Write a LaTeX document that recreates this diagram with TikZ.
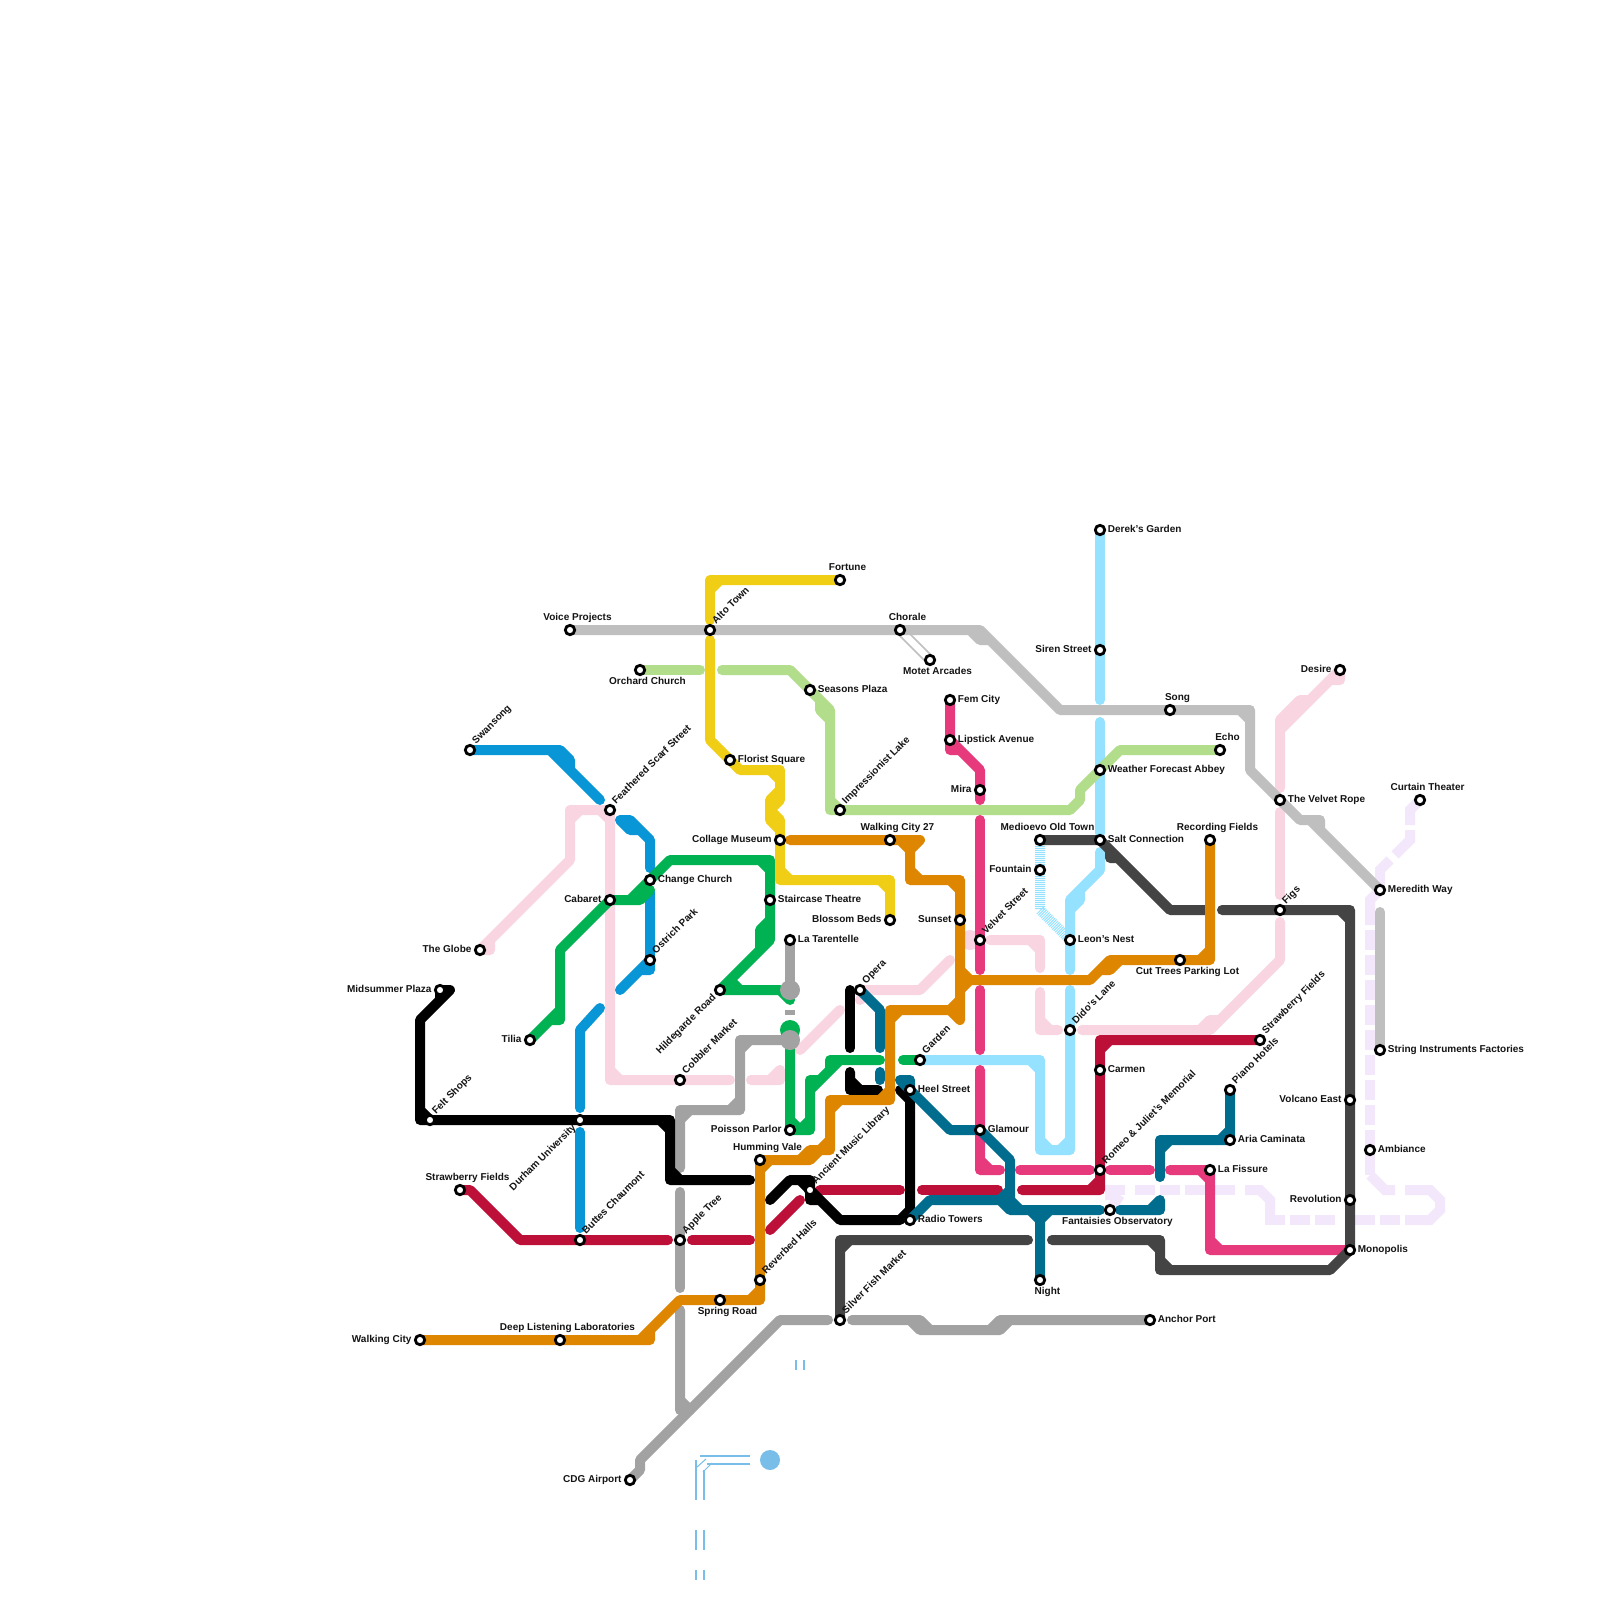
\documentclass[tikz,border=0pt]{standalone}
\usepackage{fontspec}
\setmainfont{Liberation Sans}
\pgfdeclarelayer{lines}
\pgfsetlayers{lines,main}
\definecolor{cSilver}{HTML}{BFBFBF}
\definecolor{cGray}{HTML}{A2A2A2}
\definecolor{cDark}{HTML}{444444}
\definecolor{cYellow}{HTML}{F0CE15}
\definecolor{cLime}{HTML}{B2DD8B}
\definecolor{cCyan}{HTML}{94E2FF}
\definecolor{cBlue}{HTML}{0896D7}
\definecolor{cGreen}{HTML}{00B251}
\definecolor{cOrange}{HTML}{DF8600}
\definecolor{cPink}{HTML}{F9D4E1}
\definecolor{cRed}{HTML}{BD1038}
\definecolor{cMag}{HTML}{E63A7C}
\definecolor{cTeal}{HTML}{006D8F}
\definecolor{cLav}{HTML}{F3E7FC}
\definecolor{cSky}{HTML}{79BDE9}
\tikzset{
  route/.style={line width=10pt,line cap=round,line join=round},
  lavpiece/.style={line width=10pt,line cap=butt,line join=miter,draw=cLav},
  stnode/.style={circle,draw=black,fill=white,line width=2.8pt,minimum size=9.4pt,inner sep=0pt,outer sep=0pt},
  lbl/.style={font=\bfseries\fontsize{10}{12}\selectfont,text=black!92,inner sep=0pt},
  lr/.style={lbl,anchor=base west,xshift=7.7pt,yshift=-2.6pt},
  ll/.style={lbl,anchor=base east,xshift=-8.3pt,yshift=-2.6pt},
  la/.style={lbl,anchor=base,xshift=7.5pt,yshift=9.4pt},
  lb/.style={lbl,anchor=base,xshift=7.5pt,yshift=-14.6pt},
  lrot/.style={lbl,anchor=base west,xshift=6pt,yshift=5.5pt,rotate=45},
  lrotl/.style={lbl,anchor=base east,xshift=-3.5pt,yshift=-8pt,rotate=45},
  hub/.style={circle,fill=#1,minimum size=20pt,inner sep=0pt,outer sep=0pt},
  skyline/.style={line width=2pt,draw=cSky},
}
\newcommand{\stn}[5]{\node[stnode] (#1) at (#2,#3) {};\node[#4] (#1-l) at (#1.center) {#5};}
\begin{document}
\begin{tikzpicture}[x=1pt,y=-1pt]
\useasboundingbox (0,0) rectangle (1600,1600);
% stations
\stn{swansong}{470}{750}{lrot}{Swansong}
\stn{feathered}{610}{810}{lrot}{Feathered Scarf Street}
\stn{voice}{570}{630}{la}{Voice Projects}
\stn{alto}{710}{630}{lrot}{Alto Town}
\stn{fortune}{840}{580}{la}{Fortune}
\stn{chorale}{900}{630}{la}{Chorale}
\stn{motet}{930}{660}{lb}{Motet Arcades}
\stn{orchard}{640}{670}{lb}{Orchard Church}
\stn{seasons}{810}{690}{lr}{Seasons Plaza}
\stn{florist}{730}{760}{lr}{Florist Square}
\stn{collage}{780}{840}{ll}{Collage Museum}
\stn{walking}{890}{840}{la}{Walking City 27}
\stn{change}{650}{880}{lr}{Change Church}
\stn{cabaret}{610}{900}{ll}{Cabaret}
\stn{staircase}{770}{900}{lr}{Staircase Theatre}
\stn{blossom}{890}{920}{ll}{Blossom Beds}
\stn{impress}{840}{810}{lrot}{Impressionist Lake}
\stn{sunset}{960}{920}{ll}{Sunset}
\stn{fem}{950}{700}{lr}{Fem City}
\stn{lipstick}{950}{740}{lr}{Lipstick Avenue}
\stn{mira}{980}{790}{ll}{Mira}
\stn{velvet}{980}{940}{lrot}{Velvet Street}
\stn{medioevo}{1040}{840}{la}{Medioevo Old Town}
\stn{fountain}{1040}{870}{ll}{Fountain}
\stn{salt}{1100}{840}{lr}{Salt Connection}
\stn{weather}{1100}{770}{lr}{Weather Forecast Abbey}
\stn{derek}{1100}{530}{lr}{Derek's Garden}
\stn{siren}{1100}{650}{ll}{Siren Street}
\stn{song}{1170}{710}{la}{Song}
\stn{echo}{1220}{750}{la}{Echo}
\stn{recording}{1210}{840}{la}{Recording Fields}
\stn{leon}{1070}{940}{lr}{Leon's Nest}
\stn{cuttrees}{1180}{960}{lb}{Cut Trees Parking Lot}
\stn{dido}{1070}{1030}{lrot}{Dido's Lane}
\stn{carmen}{1100}{1070}{lr}{Carmen}
\stn{strawb}{1260}{1040}{lrot}{Strawberry Fields}
\stn{piano}{1230}{1090}{lrot}{Piano Hotels}
\stn{aria}{1230}{1140}{lr}{Aria Caminata}
\stn{romeo}{1100}{1170}{lrot}{Romeo \& Juliet's Memorial}
\stn{fissure}{1210}{1170}{lr}{La Fissure}
\stn{fantaisies}{1110}{1210}{lb}{Fantaisies Observatory}
\stn{night}{1040}{1280}{lb}{Night}
\stn{anchor}{1150}{1320}{lr}{Anchor Port}
\stn{monopolis}{1350}{1250}{lr}{Monopolis}
\stn{revolution}{1350}{1200}{ll}{Revolution}
\stn{volcano}{1350}{1100}{ll}{Volcano East}
\stn{ambiance}{1370}{1150}{lr}{Ambiance}
\stn{string}{1380}{1050}{lr}{String Instruments Factories}
\stn{meredith}{1380}{890}{lr}{Meredith Way}
\stn{figs}{1280}{910}{lrot}{Figs}
\stn{rope}{1280}{800}{lr}{The Velvet Rope}
\stn{desire}{1340}{670}{ll}{Desire}
\stn{curtain}{1420}{800}{la}{Curtain Theater}
\stn{globe}{480}{950}{ll}{The Globe}
\stn{midsummer}{440}{990}{ll}{Midsummer Plaza}
\stn{tilia}{530}{1040}{ll}{Tilia}
\stn{ostrich}{650}{960}{lrot}{Ostrich Park}
\stn{hildegarde}{720}{990}{lrotl}{Hildegarde Road}
\stn{cobbler}{680}{1080}{lrot}{Cobbler Market}
\stn{tarentelle}{790}{940}{lr}{La Tarentelle}
\stn{opera}{860}{990}{lrot}{Opera}
\stn{garden}{920}{1060}{lrot}{Garden}
\stn{heel}{910}{1090}{lr}{Heel Street}
\stn{poisson}{790}{1130}{ll}{Poisson Parlor}
\stn{humming}{760}{1160}{la}{Humming Vale}
\stn{ancient}{810}{1190}{lrot}{Ancient Music Library}
\stn{glamour}{980}{1130}{lr}{Glamour}
\stn{radio}{910}{1220}{lr}{Radio Towers}
\stn{felt}{430}{1120}{lrot}{Felt Shops}
\stn{durham}{580}{1120}{lrotl}{Durham University}
\stn{strawa}{460}{1190}{la}{Strawberry Fields}
\stn{buttes}{580}{1240}{lrot}{Buttes Chaumont}
\stn{apple}{680}{1240}{lrot}{Apple Tree}
\stn{reverbed}{760}{1280}{lrot}{Reverbed Halls}
\stn{spring}{720}{1300}{lb}{Spring Road}
\stn{deep}{560}{1340}{la}{Deep Listening Laboratories}
\stn{walkcity}{420}{1340}{ll}{Walking City}
\stn{silver}{840}{1320}{lrot}{Silver Fish Market}
\stn{cdg}{630}{1480}{ll}{CDG Airport}
\begin{pgfonlayer}{lines}
\fill[white] (0,0) rectangle (1600,1600);
% lavender
\draw[lavpiece] (curtain.center)--(1410,810)--(1410,825);
\draw[lavpiece] (1410,830)--(1410,840)--(1395,855);
\draw[lavpiece] (1390,860)--(1380,870)--(1380,885);
\draw[lavpiece] (meredith.center)--(1370,900)--(1370,925);
\draw[lavpiece,dash pattern=on 20pt off 5pt] (1370,930)--(1370,1175);
\draw[lavpiece] (1370,1175)--(1385,1190)--(1395,1190);
\draw[lavpiece] (1405,1190)--(1430,1190)--(1440,1200)--(1440,1210)--(1430,1220)--(1405,1220);
\draw[lavpiece] (1400,1220)--(1380,1220);
\draw[lavpiece] (1375,1220)--(1355,1220);
\draw[lavpiece] (1335,1220)--(1315,1220);
\draw[lavpiece] (1310,1220)--(1290,1220);
\draw[lavpiece] (1285,1220)--(1265,1220);
\draw[lavpiece] (1270,1215)--(1270,1200)--(1260,1190)--(1245,1190);
\draw[lavpiece] (1235,1190)--(1185,1190);
\draw[lavpiece] (1180,1190)--(1160,1190);
\draw[lavpiece] (1155,1190)--(1135,1190);
\draw[lavpiece] (1125,1190)--(1105,1190);
\draw[lavpiece] (1110,1190)--(1110,1200) (fantaisies.center)--(1120,1195);
% pink
\node[hub=cPink] (hubpink) at (970,940) {};
\begin{scope}[route,draw=cPink]
\draw (globe.center)--(490,950)--(490,940) (globe.center)--(570,860)--(570,810)--(610,810)--(610,1080)--(730,1080) (570,820)--(580,810) (600,810)--(610,820) (610,1070)--(620,1080);
\draw (751,1080)--(780,1080)--(780,1070) (770,1080)--(780,1070);
\draw (800,1050)--(840,1010);
\draw (860,1000)--(870,990)--(920,990)--(950,960) (opera.center)--(870,990);
\draw (990,940)--(1040,940)--(1040,968) (1030,940)--(1040,950);
\draw (1040,992)--(1040,1030)--(1058,1030) (1040,1020)--(1050,1030);
\draw (1082,1030)--(1210,1030)--(1280,960)--(1280,922) (1200,1030)--(1210,1020)--(1220,1020);
\draw (1280,895)--(1280,812);
\draw (1280,788)--(1280,730)--(desire.center)--(1340,680)--(1330,680) (1280,720)--(1300,700)--(1310,700) (1280,730)--(1280,720);
\end{scope}
% cyan
\begin{scope}[route,draw=cCyan]
\draw (derek.center)--(1100,700);
\draw (1100,722)--(1100,833);
\draw (1100,852)--(1100,870)--(1070,900)--(1070,970) (1080,890)--(1080,900)--(1070,910);
\draw (1070,990)--(dido.center)--(1070,1150)--(1040,1150)--(1040,1060)--(garden.center) (1070,1140)--(1060,1150) (1050,1150)--(1040,1140) (1030,1060)--(1040,1070);
\end{scope}
\draw[line width=10pt,draw=cCyan,dash pattern=on 1pt off 1pt] (medioevo.center)--(fountain.center)--(1040,910)--(leon.center);
% lime
\begin{scope}[route,draw=cLime]
\draw (orchard.center)--(700,670);
\draw (722,670)--(790,670)--(830,710)--(830,810)--(1070,810)--(1080,800)--(1080,790)--(1120,750)--(echo.center) (810,690)--(820,700)--(820,710)--(830,720) (830,800)--(840,810);
\end{scope}
% magenta
\begin{scope}[route,draw=cMag]
\draw (fem.center)--(950,750)--(960,750)--(980,770)--(980,800) (lipstick.center)--(980,770);
\draw (980,820)--(980,970);
\draw (980,990)--(980,1050);
\draw (980,1070)--(980,1170)--(1000,1170) (980,1160)--(990,1170);
\draw (1020,1170)--(1090,1170);
\draw (1110,1170)--(1150,1170);
\draw (1170,1170)--(1210,1170)--(1210,1250)--(monopolis.center) (1200,1170)--(1210,1180) (1210,1240)--(1220,1250);
\end{scope}
% blue
\begin{scope}[route,draw=cBlue]
\draw (swansong.center)--(560,750)--(570,760)--(570,770)--(600,800) (550,750)--(570,770);
\draw (620,820)--(630,820)--(650,840)--(650,868) (620,820)--(630,830)--(640,830);
\draw (650,892)--(650,970)--(640,970)--(620,990) (650,960)--(640,970);
\draw (600,1008)--(580,1030)--(580,1108);
\draw (580,1132)--(580,1228);
\end{scope}
% red
\begin{scope}[route,draw=cRed]
\draw (strawa.center)--(470,1190)--(520,1240)--(668,1240);
\draw (692,1240)--(750,1240);
\draw (770,1230)--(800,1200);
\draw (820,1190)--(900,1190);
\draw (922,1190)--(998,1190);
\draw (1022,1190)--(1100,1190)--(1100,1040)--(strawb.center) (1090,1190)--(1100,1180) (1100,1050)--(1110,1040);
\end{scope}
% dark grey
\begin{scope}[route,draw=cDark]
\draw (medioevo.center)--(salt.center)--(1170,910)--(1205,910) (1110,850)--(1110,858)--(1118,858);
\draw (1222,910)--(1350,910)--(monopolis.center)--(1330,1270)--(1160,1270)--(1160,1240)--(1052,1240) (1340,910)--(1350,920) (1160,1260)--(1170,1270) (1150,1240)--(1160,1250);
\draw (1028,1240)--(840,1240)--(silver.center) (840,1250)--(850,1240);
\end{scope}
% silver
\begin{scope}[route,draw=cSilver]
\draw (voice.center)--(980,630)--(1060,710)--(1250,710)--(1250,770)--(1300,820)--(1320,820)--(1320,830)--(meredith.center) (970,630)--(980,640)--(990,640) (1240,710)--(1250,720) (1310,820)--(1320,830);
\draw (1380,912)--(string.center);
\end{scope}
\draw[line width=1.5pt,draw=cSilver] ([shift={(-3,3)}]chorale.center)--([shift={(-3,3)}]motet.center);
\draw[line width=1.5pt,draw=cSilver] ([shift={(3,-3)}]chorale.center)--([shift={(3,-3)}]motet.center);
% green
\begin{scope}[route,draw=cGreen]
\draw (tilia.center)--(550,1020)--(560,1020)--(560,950)--(cabaret.center) (550,1020)--(560,1010);
\draw (cabaret.center)--(640,900)--(650,890) (630,900)--(670,860)--(770,860)--(770,920)--(760,930)--(760,950) (760,860)--(770,870) (770,920)--(770,940)--(hildegarde.center)--(780,990)--(790,1000) (730,980)--(740,990);
\draw (poisson.center)--(790,1040) (790,1130)--(810,1130)--(810,1080)--(820,1080)--(830,1070)--(830,1060)--(880,1060) (810,1090)--(840,1060) (790,1120)--(800,1130)--(810,1120);
\draw (903,1060)--(garden.center);
\end{scope}
\node[hub=cGreen] (hubgreen) at (790,1030) {};
% mid grey
\begin{scope}[route,draw=cGray]
\draw (tarentelle.center)--(790,990);
\draw (790,1040)--(740,1040)--(740,1100)--(730,1110)--(680,1110)--(680,1168) (740,1050)--(750,1040) (740,1090)--(740,1110)--(730,1110) (680,1120)--(690,1110);
\draw (680,1192)--(680,1288);
\draw (680,1310)--(680,1410) (680,1400)--(690,1410);
\draw (cdg.center)--(640,1470)--(640,1460)--(780,1320)--(828,1320);
\draw (852,1320)--(920,1320)--(930,1330)--(1000,1330)--(1010,1320)--(anchor.center) (910,1320)--(920,1330)--(930,1330) (990,1330)--(1000,1320)--(1010,1320);
\end{scope}
\node[hub=cGray] (hubgrayA) at (790,990) {};
\node[hub=cGray] (hubgrayB) at (790,1040) {};
\draw[line width=5pt,draw=cGray] (785,1012.5)--(795,1012.5);
% black
\begin{scope}[route,draw=black]
\draw (midsummer.center)--(450,990)--(420,1020)--(420,1120)--(670,1120)--(670,1180)--(750,1180) (midsummer.center)--(440,1000) (420,1110)--(430,1120) (660,1120)--(670,1130) (670,1170)--(680,1180);
\draw (770,1200)--(790,1180)--(810,1180)--(810,1200)--(820,1200)--(840,1220)--(900,1220)--(910,1210)--(910,1100)--(900,1090) (800,1180)--(810,1190)--(840,1220);
\draw (850,990)--(850,1048);
\draw (850,1072)--(850,1090)--(878,1090) (850,1080)--(860,1090);
\end{scope}
% orange
\begin{scope}[route,draw=cOrange]
\draw (walkcity.center)--(650,1340)--(650,1330) (640,1340)--(680,1300)--(760,1300)--(760,1160)--(810,1160)--(820,1150)--(830,1150)--(830,1100)--(890,1100)--(890,1010)--(950,1010)--(960,1000) (750,1300)--(760,1290) (760,1170)--(770,1160) (800,1160)--(810,1150)--(820,1150)--(830,1140) (830,1110)--(840,1100) (880,1100)--(890,1090) (890,1020)--(900,1010);
\draw (950,1010)--(960,1020)--(960,880)--(910,880)--(910,850)--(920,840)--(790,840) (910,850)--(900,840) (910,870)--(920,880) (950,880)--(960,890);
\draw (960,970)--(970,980)--(1090,980)--(1110,960)--(1210,960)--(recording.center) (960,990)--(970,980) (1100,970)--(1110,970)--(1120,960) (1200,960)--(1210,950);
\end{scope}
% teal
\begin{scope}[route,draw=cTeal]
\draw (opera.center)--(880,1010)--(880,1048);
\draw (880,1072)--(880,1080);
\draw (900,1080)--(910,1080)--(910,1090) (900,1080)--(950,1130)--(980,1130)--(1010,1160)--(1010,1200)--(1020,1210)--(1100,1210) (1010,1190)--(1000,1200)--(930,1200)--(radio.center) (1000,1200)--(1010,1210)--(1030,1210)--(1040,1220)--(night.center) (1040,1220)--(1050,1210);
\draw (1120,1210)--(1160,1210)--(1160,1200) (1150,1210)--(1160,1200);
\draw (1160,1177)--(1160,1140)--(1230,1140) (1160,1150)--(1170,1140) (1220,1140)--(1230,1130) (aria.center)--(piano.center);
\end{scope}
% yellow
\begin{scope}[route,draw=cYellow]
\draw (fortune.center)--(710,580)--(710,620) (710,590)--(720,580);
\draw (710,640)--(710,740)--(740,770)--(780,770)--(780,790)--(770,800)--(770,820)--(780,830)--(780,880)--(890,880)--(blossom.center) (770,770)--(780,780) (780,790)--(780,800)--(770,810)--(780,820)--(780,830) (780,870)--(790,880) (880,880)--(890,890);
\end{scope}
% sky fragments
\draw[skyline] (700,1456)--(750,1456);
\draw[skyline] (707,1464)--(750,1464);
\draw[skyline] (696,1460)--(696,1500);
\draw[skyline] (704,1470)--(704,1500);
\draw[skyline,line width=1pt] (697,1467)--(706,1459);
\draw[skyline,line width=1pt] (703,1472)--(712,1463);
\draw[skyline] (796,1360)--(796,1370);
\draw[skyline] (804,1360)--(804,1370);
\draw[skyline] (696,1530)--(696,1550);
\draw[skyline] (704,1530)--(704,1550);
\draw[skyline] (696,1570)--(696,1580);
\draw[skyline] (704,1570)--(704,1580);
\end{pgfonlayer}
\node[hub=cSky] (hubsky) at (770,1460) {};
\end{tikzpicture}
\end{document}
